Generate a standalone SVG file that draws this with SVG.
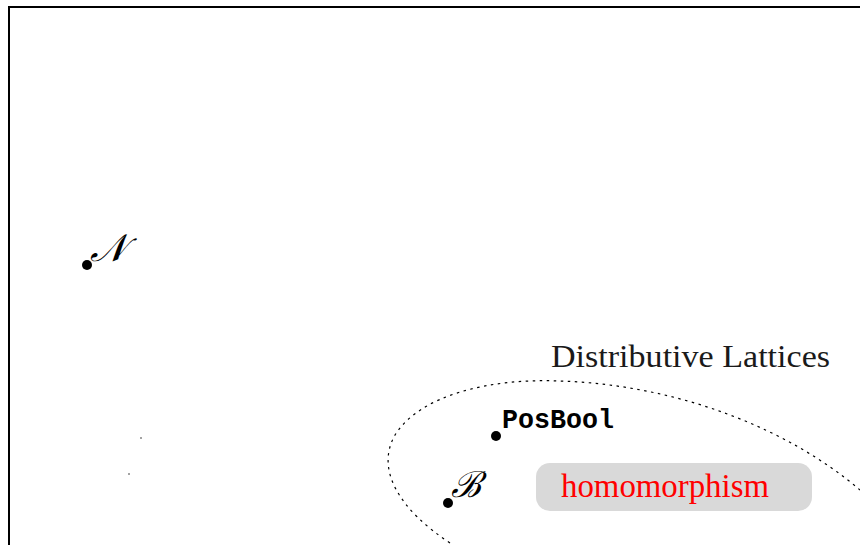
<svg xmlns="http://www.w3.org/2000/svg" width="860" height="545" viewBox="0 0 860 545">
<style>
.dot{fill:#000}
.frame{fill:none;stroke:#000;stroke-width:2}
.lbl{font-family:"DejaVu Serif","Liberation Serif",serif;font-style:italic;fill:#000}
.serif{font-family:"Liberation Serif","DejaVu Serif",serif}
.mono{font-family:"Liberation Mono","DejaVu Sans Mono",monospace;font-weight:bold}
</style>
<rect width="860" height="545" fill="#fff"/>
<path class="frame" d="M9 545 V7 H860"/>
<g id="region-distributive">
<path d="M450 543 C400 510,375 470,395 435 C420 395,490 378,560 381 C680 385,790 430,860 490" fill="none" stroke="#000" stroke-width="1.2" stroke-dasharray="2.5 4.5"/>
<text class="serif" x="551" y="367" font-size="32" textLength="279" lengthAdjust="spacingAndGlyphs" fill="#1a1a1a">Distributive Lattices</text>
</g>
<g id="node-N">
<circle class="dot" cx="87" cy="265" r="5"/>
<text class="lbl" x="90" y="261" font-size="38">𝒩</text>
</g>
<g id="node-PosBool">
<circle class="dot" cx="496" cy="436" r="5"/>
<text class="mono" x="502" y="428" font-size="27" textLength="112" lengthAdjust="spacingAndGlyphs">PosBool</text>
</g>
<g id="node-B">
<circle class="dot" cx="448" cy="503" r="5"/>
<text class="lbl" x="451" y="497" font-size="36">ℬ</text>
</g>
<g id="specks">
<circle cx="141" cy="438" r="0.7" fill="#000"/>
<circle cx="129" cy="474" r="0.7" fill="#000"/>
</g>
<g id="node-homomorphism">
<rect x="536" y="463" width="276" height="48" rx="14" fill="#d9d9d9"/>
<text class="serif" x="561" y="497" font-size="33" textLength="208" lengthAdjust="spacingAndGlyphs" fill="#ff0000">homomorphism</text>
</g>
<g id="connectors"></g>
</svg>
